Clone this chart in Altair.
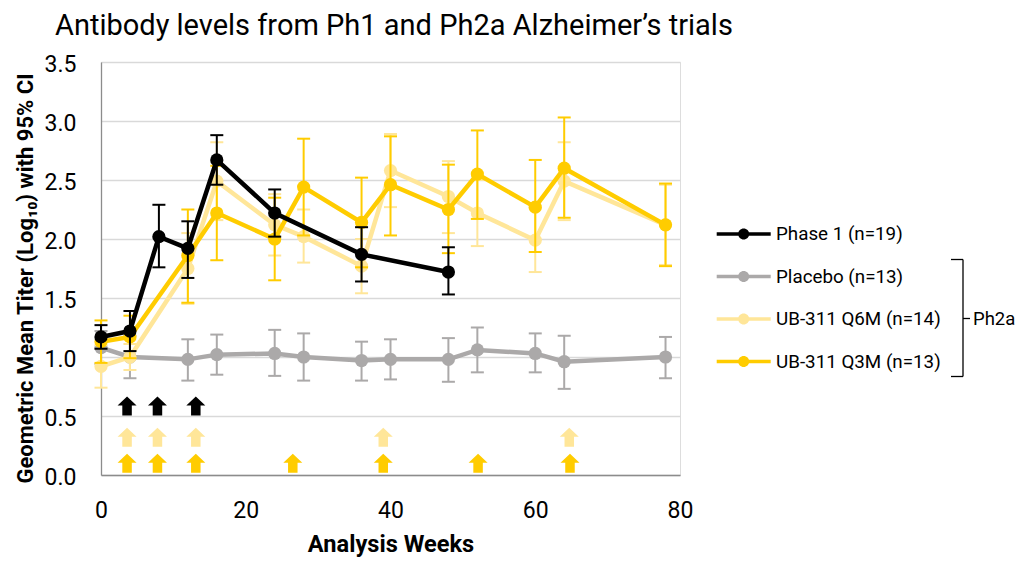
import altair as alt
import pandas as pd

FONT = "Roboto"

# ---------------- data ----------------
series_names = ["Phase 1 (n=19)", "Placebo (n=13)", "UB-311 Q6M (n=14)", "UB-311 Q3M (n=13)"]
series_colors = ["#000000", "#ABA9A9", "#FFE699", "#FFCC00"]

p1_weeks = [0, 4, 8, 12, 16, 24, 36, 48]
p1_gmt = [1.17, 1.22, 2.02, 1.92, 2.67, 2.22, 1.87, 1.72]
p1_lo = [1.07, 1.05, 1.76, 1.67, 2.46, 2.02, 1.64, 1.53]
p1_hi = [1.27, 1.39, 2.29, 2.15, 2.88, 2.42, 2.10, 1.93]

ph2_weeks = [0, 4, 12, 16, 24, 28, 36, 40, 48, 52, 60, 64, 78]
pbo_gmt = [1.08, 1.00, 0.98, 1.02, 1.03, 1.00, 0.97, 0.98, 0.98, 1.06, 1.03, 0.96, 1.00]
pbo_lo = [0.94, 0.82, 0.80, 0.85, 0.84, 0.80, 0.80, 0.81, 0.79, 0.87, 0.87, 0.73, 0.82]
pbo_hi = [1.22, 1.18, 1.15, 1.19, 1.23, 1.20, 1.13, 1.15, 1.16, 1.25, 1.20, 1.18, 1.17]
q6_gmt = [0.92, 1.00, 1.75, 2.49, 2.12, 2.02, 1.77, 2.58, 2.36, 2.22, 1.99, 2.49, 2.12]
q6_lo = [0.74, 0.89, 1.45, 2.16, 1.86, 1.80, 1.54, 2.27, 2.05, 1.94, 1.72, 2.16, 1.78]
q6_hi = [1.10, 1.11, 2.05, 2.82, 2.38, 2.25, 2.00, 2.89, 2.66, 2.50, 2.26, 2.82, 2.46]
q3_gmt = [1.13, 1.17, 1.86, 2.22, 2.00, 2.44, 2.14, 2.46, 2.25, 2.55, 2.27, 2.60, 2.12]
q3_lo = [0.95, 0.99, 1.46, 1.82, 1.65, 2.03, 1.76, 2.03, 1.88, 2.17, 1.89, 2.18, 1.77]
q3_hi = [1.31, 1.35, 2.25, 2.62, 2.35, 2.85, 2.52, 2.87, 2.63, 2.92, 2.67, 3.03, 2.47]

# dosing arrows (week, level)
arrow_p1_weeks = [3.6, 7.8, 13.1]
arrow_q6_weeks = [3.6, 7.8, 13.1, 39.0, 64.7]
arrow_q3_weeks = [3.6, 7.8, 13.1, 26.5, 39.0, 52.1, 64.8]
arrow_levels = [0.585, 0.32, 0.10]
arrow_colors = ["#000000", "#FFE699", "#FFCC00"]

x_ticks = [0, 20, 40, 60, 80]
y_ticks = [0, 0.5, 1.0, 1.5, 2.0, 2.5, 3.0, 3.5]

title_text = "Antibody levels from Ph1 and Ph2a Alzheimer\u2019s trials"
x_title = "Analysis Weeks"
y_title = "Geometric Mean Titer (Log\u2081\u2080) with 95% CI"
group_label = "Ph2a"

# ---------------- tables ----------------
def make_df(name, weeks, gmt, lo, hi):
    return pd.DataFrame({"series": name, "week": weeks, "gmt": gmt, "lo": lo, "hi": hi})

dfs = {
    series_names[0]: make_df(series_names[0], p1_weeks, p1_gmt, p1_lo, p1_hi),
    series_names[1]: make_df(series_names[1], ph2_weeks, pbo_gmt, pbo_lo, pbo_hi),
    series_names[2]: make_df(series_names[2], ph2_weeks, q6_gmt, q6_lo, q6_hi),
    series_names[3]: make_df(series_names[3], ph2_weeks, q3_gmt, q3_lo, q3_hi),
}

arrow_df = pd.concat([
    pd.DataFrame({"week": arrow_p1_weeks, "level": arrow_levels[0], "col": arrow_colors[0]}),
    pd.DataFrame({"week": arrow_q6_weeks, "level": arrow_levels[1], "col": arrow_colors[1]}),
    pd.DataFrame({"week": arrow_q3_weeks, "level": arrow_levels[2], "col": arrow_colors[2]}),
], ignore_index=True)

# ---------------- scales & axes ----------------
x_scale = alt.Scale(domain=[0, 80], nice=False, zero=False)
y_scale = alt.Scale(domain=[0, 3.5], nice=False)
fill_scale = alt.Scale(domain=series_names, range=series_colors)
# same mapping, listed in reverse so that its (hidden) legend is not merged with the fill legend
stroke_scale = alt.Scale(domain=series_names[::-1], range=series_colors[::-1])

x_axis = alt.Axis(
    values=x_ticks, grid=False, ticks=False, tickSize=0, labelFlush=False,
    labelPadding=24.5, labelFont=FONT, labelFontSize=23, labelColor="#000000",
    domainColor="#8C8C8C", domainWidth=1.3,
    title=x_title, titleFont=FONT, titleFontSize=23.6, titleFontWeight="bold",
    titleColor="#000000", titleY=76, titleBaseline="alphabetic",
)
y_axis = alt.Axis(
    values=y_ticks, format=".1f", grid=True, gridColor="#D9D9D9", gridWidth=1.3,
    ticks=False, tickSize=0, labelPadding=25, labelOffset=2,
    labelFont=FONT, labelFontSize=23, labelColor="#000000",
    domainColor="#8C8C8C", domainWidth=1.3,
    title=y_title, titleFont=FONT, titleFontSize=22, titleFontWeight="bold",
    titleColor="#000000", titleX=-76, titleY=216, titleAngle=270,
    titleBaseline="middle", titleAlign="center",
)

legend_symbol = (
    "M-2.25,-0.14 L-0.4,-0.14 L-0.4,0.14 L-2.25,0.14 Z "
    "M0.4,-0.14 L2.25,-0.14 L2.25,0.14 L0.4,0.14 Z "
    "M-0.46,0 A0.46,0.46 0 1,1 0.46,0 A0.46,0.46 0 1,1 -0.46,0 Z"
)
legend = alt.Legend(
    title=None, orient="none", legendX=630.7, legendY=160, padding=0,
    symbolType=legend_symbol, symbolSize=576, symbolStrokeWidth=0, symbolOpacity=1,
    labelFont=FONT, labelFontSize=18.8, labelColor="#000000", labelOffset=20.3,
    rowPadding=20.5, labelLimit=400,
)

arrow_shape = "M0,-1 L1,-0.05 L0.5,-0.05 L0.5,1 L-0.5,1 L-0.5,-0.05 L-1,-0.05 Z"

X = alt.X("week:Q", scale=x_scale, axis=x_axis)

layers = []
for name in [series_names[1], series_names[2], series_names[3], series_names[0]]:
    base = alt.Chart(dfs[name])
    stroke = alt.Stroke("series:N", scale=stroke_scale, legend=None)
    bars = base.mark_rule(strokeWidth=2).encode(
        x=X, y=alt.Y("lo:Q", scale=y_scale, axis=y_axis), y2="hi:Q", stroke=stroke)
    cap_lo = base.mark_rule(strokeWidth=2, xOffset=-6.5, x2Offset=6.5).encode(
        x=X, x2="week:Q", y=alt.Y("lo:Q", scale=y_scale, axis=y_axis), stroke=stroke)
    cap_hi = base.mark_rule(strokeWidth=2, xOffset=-6.5, x2Offset=6.5).encode(
        x=X, x2="week:Q", y=alt.Y("hi:Q", scale=y_scale, axis=y_axis), stroke=stroke)
    line = base.mark_line(strokeWidth=4.5).encode(
        x=X, y=alt.Y("gmt:Q", scale=y_scale, axis=y_axis), stroke=stroke)
    pts = base.mark_circle(size=175, opacity=1, strokeWidth=0).encode(
        x=X, y=alt.Y("gmt:Q", scale=y_scale, axis=y_axis),
        fill=alt.Fill("series:N", scale=fill_scale, legend=legend))
    layers += [bars, cap_lo, cap_hi, line, pts]

arrows = alt.Chart(arrow_df).mark_point(
    shape=arrow_shape, filled=True, size=361, opacity=1, strokeWidth=0
).encode(
    x=X, y=alt.Y("level:Q", scale=y_scale, axis=y_axis),
    color=alt.Color("col:N", scale=None),
)
layers.append(arrows)

# bracket grouping the Ph2a arms in the legend
one = pd.DataFrame({"k": [0]})
br_top = alt.Chart(one).mark_rule(color="#000000", strokeWidth=1.3).encode(
    x=alt.value(850), x2=alt.value(862), y=alt.value(197.5))
br_vert = alt.Chart(one).mark_rule(color="#000000", strokeWidth=1.3).encode(
    x=alt.value(862), y=alt.value(197.5), y2=alt.value(314.5))
br_bot = alt.Chart(one).mark_rule(color="#000000", strokeWidth=1.3).encode(
    x=alt.value(850), x2=alt.value(862), y=alt.value(314.5))
br_mid = alt.Chart(one).mark_rule(color="#000000", strokeWidth=1.3).encode(
    x=alt.value(862), x2=alt.value(869), y=alt.value(256.5))
br_text = alt.Chart(one).mark_text(
    text=group_label, align="left", baseline="middle", font=FONT, fontSize=18.5, color="#000000"
).encode(x=alt.value(872), y=alt.value(256.5))
layers += [br_top, br_vert, br_bot, br_mid, br_text]

chart = alt.layer(*layers).properties(
    width=579, height=413,
    title=alt.TitleParams(
        text=title_text, font=FONT, fontSize=29, fontWeight="normal", color="#000000",
        anchor="start", frame="group", dx=-46, dy=31, baseline="alphabetic", offset=20,
    ),
    autosize=alt.AutoSizeParams(type="none"),
    padding={"left": 93, "top": 54, "right": 335, "bottom": 83},
).configure_view(stroke=None).configure(background="#FFFFFF")

chart.save("out.html", embed_options={"renderer": "svg", "actions": False})
